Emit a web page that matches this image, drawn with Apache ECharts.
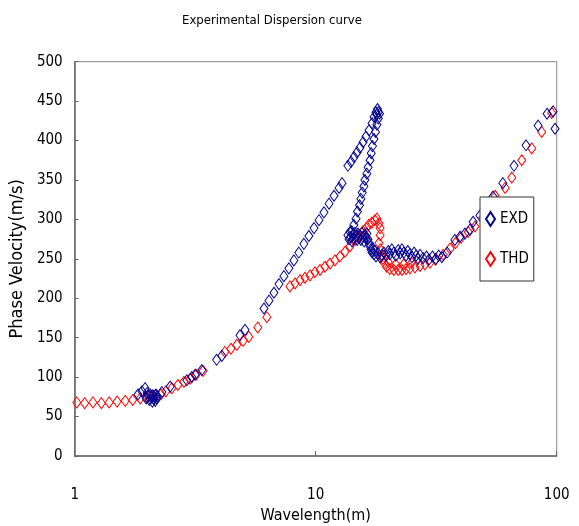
<!DOCTYPE html>
<html>
<head>
<meta charset="utf-8">
<script src="https://cdn.jsdelivr.net/npm/echarts@6/dist/echarts.min.js"></script>
<style>html,body{margin:0;padding:0;background:#fff}#c{width:579px;height:526px}</style>
</head>
<body>
<div id="c"></div>
<script>
const titleText = 'Experimental Dispersion curve';
const xAxisName = 'Wavelength(m)';
const yAxisName = 'Phase Velocity(m/s)';
const seriesNames = ['EXD', 'THD'];

const exdWavelength = [
  1.83, 1.90, 1.96, 2.00, 1.98, 2.02, 2.04, 2.06, 2.08, 2.10, 2.11, 2.13, 2.14, 2.16, 2.17, 2.19, 2.20,
  2.30, 2.49, 2.92, 3.06, 3.16, 3.37, 3.88, 4.08, 4.85, 5.09,
  6.10, 6.40, 6.71, 7.04, 7.38, 7.74, 8.12, 8.51, 8.93, 9.37, 9.84, 10.32, 10.82, 11.36, 11.91, 12.50, 12.86,
  13.6, 14.02, 14.42, 14.84, 15.27, 15.72, 16.17, 16.64, 17.13, 17.46, 17.79, 18.05, 17.9, 18.2,
  13.6, 13.75, 13.88, 14.0, 14.15, 14.3, 14.42, 14.55, 14.7, 14.85, 14.98, 15.1, 15.27, 15.4, 15.57, 15.7,
  15.87, 16.0, 16.17, 16.3, 16.48, 16.65, 16.8, 16.95, 17.13, 17.3, 17.46, 17.6, 17.79, 18.14, 18.49, 18.84,
  14.1, 14.4, 14.7, 14.9, 15.2, 15.4, 15.6, 15.85, 16.0, 16.3, 16.5, 16.8, 17.0, 17.2, 17.45, 17.7, 17.95, 18.2, 18.4,
  19.2, 19.6, 20.0, 20.3, 20.7, 21.1, 21.5, 22.0, 22.4, 22.8, 23.2, 23.7, 24.1, 24.6, 25.1, 25.6, 26.1, 26.6,
  27.1, 27.9, 28.8, 29.5, 30.5, 31.5, 32.4, 33.4, 35.1,
  37.8, 39.7, 41.6, 43.7, 45.0, 48.0, 51.0, 54.4, 59.8, 66.5, 74.6, 83.7, 91.2, 96.6, 98.4
];
const exdVelocity = [
  78, 82, 86, 80, 73, 76, 71, 78, 74, 69, 77, 72, 75, 70, 78, 73, 76,
  81, 88, 96, 100, 103, 109, 122, 127, 153, 160,
  187, 197, 207, 218, 228, 238, 248, 258, 269, 279, 289, 299, 309, 320, 330, 340, 346,
  368, 373, 379, 385, 391, 398, 405, 413, 422, 430, 436, 440, 433, 436,
  280, 275, 284, 278, 272, 281, 276, 283, 279, 274, 282, 277, 280, 274, 283, 278,
  272, 280, 276, 282, 275, 270, 266, 262, 258, 263, 256, 260, 253, 257, 252, 255,
  285, 293, 301, 310, 318, 326, 334, 342, 350, 358, 366, 375, 384, 393, 402, 411, 420, 428, 434,
  258, 254, 260, 256, 262, 258, 254, 261, 257, 262, 258, 254, 260, 256, 252, 258, 254, 250,
  255, 251, 253, 249, 253, 250, 254, 252, 258,
  274, 278, 282, 287, 297, 305, 318, 329, 346, 368, 394, 419, 434, 437, 415
];

const thdWavelength = [
  1.02, 1.10, 1.19, 1.29, 1.39, 1.50, 1.62, 1.74, 1.87, 1.98, 2.07, 2.17, 2.28, 2.39, 2.53, 2.68, 2.84, 3.01, 3.19, 3.41,
  4.20, 4.45, 4.71, 5.00, 5.28, 5.75, 6.27,
  7.82, 8.21, 8.61, 9.03, 9.47, 9.93, 10.42, 10.93, 11.46, 12.02, 12.61, 13.23, 13.88, 14.56,
  15.1, 15.7, 16.2, 16.6, 17.1, 17.6, 17.96, 18.3, 18.5, 18.5, 18.3, 18.55, 18.8,
  19.2, 19.7, 20.3, 21.1, 22.0, 22.8, 23.7, 24.6, 25.8, 27.1, 28.4, 29.8,
  19.0, 20.0, 21.5, 23.2, 25.0,
  31.4, 33.8, 36.1, 38.0, 40.1, 42.9, 45.8, 49.4, 52.9, 55.5, 61.1, 65.1, 71.6, 78.8, 86.6, 95.3
];
const thdVelocity = [
  68, 67, 68, 67, 68, 69, 70, 71, 73, 75, 76, 77, 78, 82, 86, 90, 94, 98, 103, 108,
  132, 136, 141, 146, 151, 163, 176,
  215, 219, 223, 226, 229, 233, 236, 240, 244, 248, 253, 259, 266, 274,
  280, 285, 289, 293, 296, 299, 301, 295, 289, 280, 270, 262, 253,
  245, 240, 237, 236, 236, 236, 237, 238, 239, 241, 243, 245,
  250, 246, 243, 243, 245,
  249, 255, 263, 270, 277, 284, 291, 302, 316, 330, 340, 353, 375, 390, 411, 435
];

const yTicks = [0, 50, 100, 150, 200, 250, 300, 350, 400, 450, 500];

function pairs(xs, ys) { return xs.map((x, i) => [x, ys[i]]); }

const FONT = "'Liberation Sans Narrow', 'DejaVu Sans Condensed', sans-serif";
const chart = echarts.init(document.getElementById('c'), null, { renderer: 'canvas' });
chart.setOption({
  animation: false,
  backgroundColor: '#ffffff',
  textStyle: { fontFamily: FONT },
  title: {
    text: titleText,
    left: 177, top: 9,
    textStyle: { fontFamily: FONT, fontSize: 13, fontWeight: 'normal', color: '#000' }
  },
  grid: {
    left: 74.7, right: 22.3, top: 61.7, bottom: 70,
    outerBoundsMode: 'none', containLabel: false,
    show: true, borderColor: '#888', borderWidth: 1, backgroundColor: '#fff'
  },
  legend: {
    orient: 'vertical',
    left: 480, top: 197,
    padding: [14, 5, 14, 5],
    itemGap: 24,
    itemWidth: 9, itemHeight: 14,
    backgroundColor: '#fff',
    borderColor: '#333', borderWidth: 1,
    textStyle: { fontFamily: FONT, fontSize: 15, color: '#000' },
    data: seriesNames
  },
  xAxis: {
    type: 'log', logBase: 10, min: 1, max: 100,
    name: xAxisName, nameLocation: 'middle', nameGap: 49,
    nameTextStyle: { fontFamily: FONT, fontSize: 16, color: '#000' },
    axisLine: { show: true, lineStyle: { color: '#666', width: 1.5 } },
    axisTick: { show: true, inside: true, length: 5, lineStyle: { color: '#666' } },
    axisLabel: { fontFamily: FONT, fontSize: 15, color: '#000', margin: 32 },
    splitLine: { show: false },
    minorTick: { show: false }
  },
  yAxis: {
    type: 'value', min: yTicks[0], max: yTicks[yTicks.length - 1], interval: 50,
    name: yAxisName, nameLocation: 'middle', nameGap: 47,
    nameTextStyle: { fontFamily: FONT, fontSize: 18, color: '#000' },
    axisLine: { show: true, lineStyle: { color: '#666', width: 1.5 } },
    axisTick: { show: true, inside: true, length: 4, lineStyle: { color: '#666' } },
    axisLabel: { fontFamily: FONT, fontSize: 15, color: '#000', margin: 12 },
    splitLine: { show: false }
  },
  series: [
    {
      name: seriesNames[0], type: 'scatter',
      symbol: 'diamond', symbolSize: [8, 11],
      itemStyle: { color: 'rgba(255,255,255,0)', borderColor: '#000090', borderWidth: 1, opacity: 1 },
      data: pairs(exdWavelength, exdVelocity), z: 3
    },
    {
      name: seriesNames[1], type: 'scatter',
      symbol: 'diamond', symbolSize: [8, 11],
      itemStyle: { color: 'rgba(255,255,255,0)', borderColor: '#ff0000', borderWidth: 1, opacity: 1 },
      data: pairs(thdWavelength, thdVelocity), z: 2
    }
  ]
});
</script>
</body>
</html>
